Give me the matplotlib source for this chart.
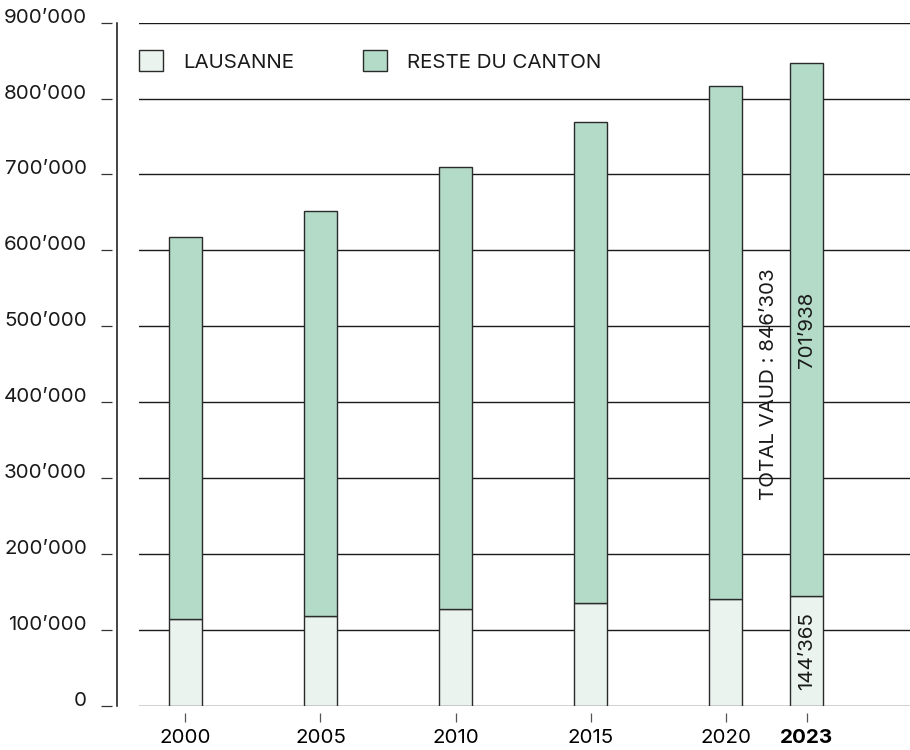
import matplotlib
matplotlib.use("Agg")
import matplotlib.pyplot as plt
from matplotlib.ticker import FuncFormatter

plt.rcParams["font.family"] = ["Inter", "DejaVu Sans"]
plt.rcParams["text.color"] = "#1a1a1a"

# population data
years = [2000, 2005, 2010, 2015, 2020, 2023]
lausanne = [114600, 117800, 127000, 135300, 140600, 144365]
reste = [502500, 534000, 582400, 633300, 675900, 701938]
series_labels = ["LAUSANNE", "RESTE DU CANTON"]
y_ticks = [0, 100000, 200000, 300000, 400000, 500000, 600000, 700000, 800000, 900000]

c_lausanne = "#eaf3ee"
c_reste = "#b3dbc8"
edge = "#2a2a2a"
fs = 14.8


def swiss(v):
    return f"{int(v):,}".replace(",", "\u2019")


fig = plt.figure(figsize=(9.1, 7.5), dpi=100)
ax = fig.add_axes([139 / 910, 44.3 / 750, 771 / 910, 683 / 750])

b1 = ax.bar(years, lausanne, width=1.25, color=c_lausanne, edgecolor=edge,
            linewidth=1, zorder=2, label=series_labels[0])
b2 = ax.bar(years, reste, width=1.25, bottom=lausanne, color=c_reste,
            edgecolor=edge, linewidth=1, zorder=2, label=series_labels[1])

ax.set_xlim(1998.28, 2026.83)
ax.set_ylim(0, 900000)
ax.set_yticks(y_ticks)
ax.grid(axis="y", color="#1a1a1a", linewidth=1)
for gl in ax.get_ygridlines():
    gl.set_clip_on(False)
ax.set_axisbelow(True)

for s in ["top", "right", "bottom"]:
    ax.spines[s].set_visible(False)
ax.spines["left"].set_position(("outward", 15.8))
ax.spines["left"].set_linewidth(1.1)
ax.spines["left"].set_color("#111")
ax.tick_params(axis="y", left=False, labelleft=False)

# y tick dashes and labels detached from the axis line
sec = ax.secondary_yaxis(-38 / 771)
sec.set_yticks(y_ticks)
sec.yaxis.set_major_formatter(FuncFormatter(lambda v, p: swiss(v)))
for s in sec.spines.values():
    s.set_visible(False)
sec.tick_params(direction="in", length=7.9, width=0.9, color="#333",
                pad=10, labelsize=fs, labelcolor="#1a1a1a")
for lbl in sec.get_yticklabels():
    lbl.set_va("baseline")

# x ticks
ax.spines["bottom"].set_position(("outward", 5))
ax.set_xticks(years)
ax.set_xticklabels([str(y) for y in years])
ax.tick_params(axis="x", direction="out", length=6.5, width=0.9, color="#555",
               pad=5.5, labelsize=fs)
ax.get_xticklabels()[-1].set_fontweight("bold")

# value labels inside the 2023 bar
last = len(years) - 1
ax.text(years[last], lausanne[last] / 2, swiss(lausanne[last]), rotation=90,
        ha="center", va="center", fontsize=fs, zorder=3)
ax.text(years[last], lausanne[last] + reste[last] / 2, swiss(reste[last]),
        rotation=90, ha="center", va="center", fontsize=fs, zorder=3)
total = lausanne[last] + reste[last]
ax.text(years[last] - 1.4, total / 2, f"TOTAL VAUD : {swiss(total)}",
        rotation=90, ha="center", va="center", fontsize=fs, zorder=3)

ax.legend(handles=[b1, b2], loc="center left", bbox_to_anchor=(0, 0.944),
          ncol=2, frameon=False, fontsize=fs, borderaxespad=0, borderpad=0,
          handlelength=1.15, handleheight=1.15, handletextpad=1.0,
          columnspacing=3.35)

fig.savefig("out.png", dpi=100)
